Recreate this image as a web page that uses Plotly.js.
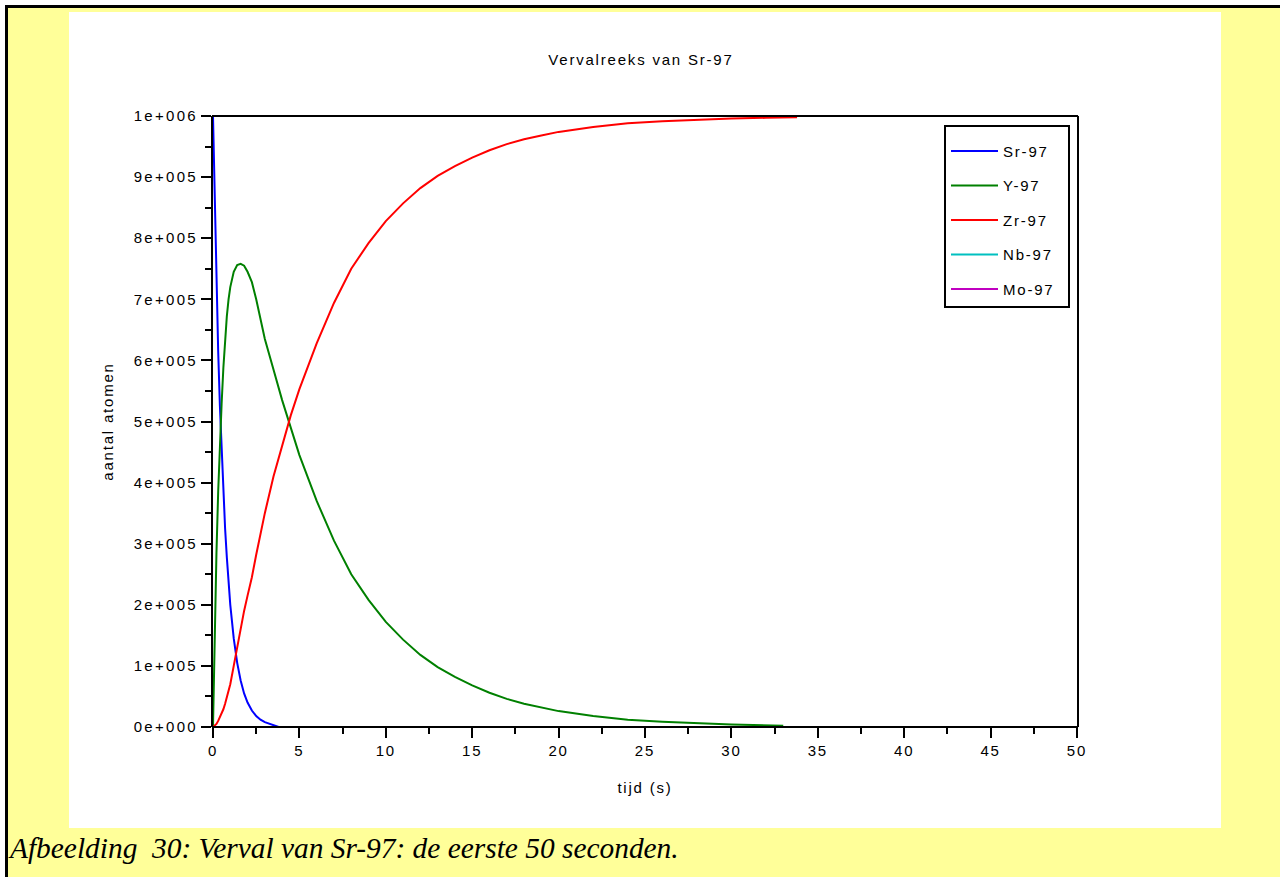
<!DOCTYPE html>
<html>
<head>
<meta charset="utf-8">
<script src="https://cdn.plot.ly/plotly-3.0.1.min.js"></script>
<style>
  html, body { margin:0; padding:0; width:1280px; height:877px; background:#ffffff; overflow:hidden; }
  #frame { position:absolute; left:5px; top:5px; width:1275px; height:872px; background:#ffff99;
           border-left:3px solid #000; border-top:3px solid #000; box-sizing:border-box; }
  #chart { position:absolute; left:69px; top:12px; width:1152px; height:816px; }
  #caption { position:absolute; left:10px; top:834px; font-family:"Liberation Serif","Times New Roman",serif;
             font-style:italic; font-size:29.4px; line-height:29px; color:#000; white-space:pre; }
  #chart text { letter-spacing:1.8px; }
  #chart .ytick text { letter-spacing:2.3px; }
</style>
</head>
<body>
<div id="frame"></div>
<div id="chart"></div>
<div id="caption">Afbeelding  30: Verval van Sr-97: de eerste 50 seconden.</div>
<script>
// ---- data ----
const seriesNames = ["Sr-97", "Y-97", "Zr-97", "Nb-97", "Mo-97"];
const seriesColors = ["#0000ff", "#008000", "#ff0000", "#00c0c0", "#c000c0"];

const timeSr = [0, 0.1, 0.2, 0.3, 0.4, 0.5, 0.6, 0.7, 0.8, 0.9, 1.0, 1.2, 1.4, 1.6, 1.8, 2.0, 2.25, 2.5, 2.75, 3.0, 3.4, 3.8];
const srValues = [1000000, 850000, 720000, 615000, 525000, 450000, 385000, 325000, 278000, 236000, 200000, 145000, 105000, 76000, 55000, 40000, 27000, 18000, 12000, 8000, 4000, 0];

const timeY = [0, 0.1, 0.2, 0.3, 0.4, 0.5, 0.6, 0.7, 0.8, 0.9, 1.0, 1.2, 1.4, 1.6, 1.8, 2.0, 2.25, 2.5, 2.75, 3.0, 3.5, 4, 4.5, 5, 6, 7, 8, 9, 10, 11, 12, 13, 14, 15, 16, 17, 18, 19, 20, 22, 24, 26, 28, 30, 33];
const yValues = [0, 160000, 285000, 385000, 465000, 530000, 588000, 635000, 672000, 700000, 720000, 745000, 756000, 758000, 755000, 745000, 728000, 700000, 668000, 635000, 585000, 535000, 490000, 445000, 370000, 305000, 250000, 208000, 172000, 143000, 118000, 98000, 82000, 68000, 56000, 46000, 38000, 32000, 26000, 18000, 12000, 8500, 6000, 4000, 2000];

const timeZr = [0, 0.1, 0.2, 0.3, 0.4, 0.5, 0.6, 0.7, 0.8, 0.9, 1.0, 1.2, 1.4, 1.6, 1.8, 2.0, 2.25, 2.5, 2.75, 3.0, 3.5, 4, 4.5, 5, 6, 7, 8, 9, 10, 11, 12, 13, 14, 15, 16, 17, 18, 19, 20, 22, 24, 26, 28, 30, 32, 33.8];
const zrValues = [0, 2000, 5000, 10000, 16000, 22000, 29000, 38000, 48000, 58000, 70000, 100000, 132000, 162000, 190000, 215000, 245000, 282000, 316000, 350000, 410000, 462000, 510000, 553000, 628000, 694000, 750000, 792000, 828000, 857000, 882000, 902000, 918000, 932000, 944000, 954000, 962000, 968000, 974000, 982000, 988000, 991500, 994000, 996000, 997000, 998000];

// Nb-97 and Mo-97 stay at zero (hidden under the x axis in the reference)
const timeNb = [0, 33.8];
const nbValues = [0, 0];
const timeMo = [0, 33.8];
const moValues = [0, 0];

const yTickVals = [0, 100000, 200000, 300000, 400000, 500000, 600000, 700000, 800000, 900000, 1000000];
const yTickText = ["0e+000", "1e+005", "2e+005", "3e+005", "4e+005", "5e+005", "6e+005", "7e+005", "8e+005", "9e+005", "1e+006"];
const xTickVals = [0, 5, 10, 15, 20, 25, 30, 35, 40, 45, 50];

// ---- build traces ----
const xs = [timeSr, timeY, timeZr, timeNb, timeMo];
const ys = [srValues, yValues, zrValues, nbValues, moValues];
const pad = "\u00a0\u00a0\u00a0\u00a0";
const traces = seriesNames.map((n, i) => ({
  type: "scatter", mode: "lines", name: n + pad, x: xs[i], y: ys[i],
  line: { color: seriesColors[i], width: 2 },
  legendgroup: "g" + i, showlegend: true
}));

const font = { family: "Liberation Sans, Arial, sans-serif", size: 15, color: "#000" };

const layout = {
  width: 1152, height: 816,
  margin: { l: 144, r: 144, t: 104, b: 101 },
  paper_bgcolor: "#ffffff", plot_bgcolor: "#ffffff",
  font: font,
  title: { text: "Vervalreeks van Sr-97", x: 0.4965, xref: "container", xanchor: "center",
           y: 1 - 48 / 816, yref: "container", yanchor: "middle", font: { size: 15, family: font.family, color: "#000" } },
  xaxis: {
    range: [0, 50], tickvals: xTickVals, ticktext: xTickVals.map(String),
    ticks: "outside", ticklen: 10, tickwidth: 2, tickcolor: "#000",
    minor: { tickvals: [2.5, 7.5, 12.5, 17.5, 22.5, 27.5, 32.5, 37.5, 42.5, 47.5], ticks: "outside", ticklen: 6, tickwidth: 2, tickcolor: "#000" },
    showline: false,
    showgrid: false, zeroline: false,
    tickfont: font,
    title: { text: "tijd (s)", font: font, standoff: 24 }
  },
  yaxis: {
    range: [0, 1000000], tickvals: yTickVals, ticktext: yTickText,
    ticks: "outside", ticklen: 10, tickwidth: 2, tickcolor: "#000",
    minor: { tickvals: [50000, 150000, 250000, 350000, 450000, 550000, 650000, 750000, 850000, 950000], ticks: "outside", ticklen: 6, tickwidth: 2, tickcolor: "#000" },
    showline: true, linecolor: "#000", linewidth: 2, mirror: true,
    showgrid: false, zeroline: false,
    tickfont: font,
    title: { text: "aantal atomen", font: font, standoff: 30 }
  },
  // bottom and top frame lines drawn above the traces, as in the reference
  shapes: [
    { type: "line", xref: "paper", yref: "paper", x0: -0.0012, x1: 1.0012, y0: 0, y1: 0,
      line: { color: "#000", width: 2 }, layer: "above" },
    { type: "line", xref: "paper", yref: "paper", x0: -0.0012, x1: 1.0012, y0: 1, y1: 1,
      line: { color: "#000", width: 2 }, layer: "above" }
  ],
  showlegend: true,
  legend: {
    x: (944 - 213) / 864, y: (727 - 125) / 611, xanchor: "left", yanchor: "top",
    bgcolor: "#ffffff", bordercolor: "#000", borderwidth: 2,
    font: font, itemwidth: 47, tracegroupgap: 12,
    title: { text: " ", font: { size: 6 } }
  }
};

Plotly.newPlot("chart", traces, layout, { displayModeBar: false, staticPlot: true });
</script>
</body>
</html>
